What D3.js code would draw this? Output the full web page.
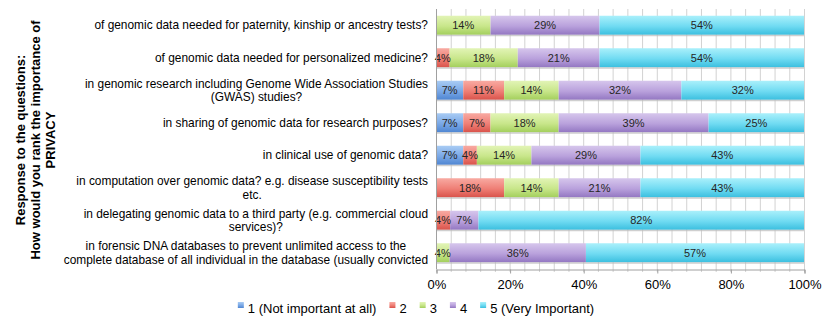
<!DOCTYPE html>
<html>
<head>
<meta charset="utf-8">
<script src="https://cdn.jsdelivr.net/npm/d3@7"></script>
<style>
  html, body { margin: 0; padding: 0; background: #fff; }
  svg { display: block; font-family: "Liberation Sans", Arial, Helvetica, sans-serif; }
</style>
</head>
<body>
<svg id="chart" width="830" height="322"></svg>
<script>
// ---- Data (percent of respondents) ----
const categories = [
  "of genomic data needed for paternity, kinship or ancestry tests?",
  "of genomic data needed for personalized medicine?",
  "in genomic research including Genome Wide Association Studies\n(GWAS) studies?",
  "in sharing of genomic data for research purposes?",
  "in clinical use of genomic data?",
  "in computation over genomic data? e.g. disease susceptibility tests\netc.",
  "in delegating genomic data to a third party (e.g. commercial cloud\nservices)?",
  "in forensic DNA databases to prevent unlimited access to the\ncomplete database of all individual in the database (usually convicted"
];
const seriesNames = ["1 (Not important at all)", "2", "3", "4", "5 (Very Important)"];
const s1 = [0, 0, 7.14, 7.14, 7.14, 0, 0, 0];
const s2 = [0, 3.57, 10.71, 7.14, 3.57, 17.86, 3.57, 0];
const s3 = [14.29, 17.86, 14.29, 17.86, 14.29, 14.29, 0, 3.57];
const s4 = [28.57, 21.43, 32.14, 39.29, 28.57, 21.43, 7.14, 35.71];
const s5 = [53.57, 53.57, 32.14, 25.00, 42.86, 42.86, 82.14, 57.14];
const tickValues = [0, 0.2, 0.4, 0.6, 0.8, 1.0];
const titleLines = ["Response to the questions:", "How would you rank the importance of", "PRIVACY"];

const seriesValues = [s1, s2, s3, s4, s5];
const gradStops = [
  ["#a9ccf4", "#7aa8e6", "#4f86d2"],
  ["#f8aaa2", "#ef7f76", "#d9534b"],
  ["#e2f4b6", "#c8e68a", "#a3cf5c"],
  ["#d6c6ec", "#b9a1dc", "#9377c2"],
  ["#aaf0fb", "#70dbf2", "#3bbfdf"]
];

// Build table for the stack
const table = categories.map((c, i) => {
  const row = { cat: c };
  seriesNames.forEach((s, k) => row[s] = seriesValues[k][i]);
  return row;
});

const svg = d3.select("#chart");
const margin = { left: 436, right: 26, top: 9, bottom: 53 };
const W = 830, H = 322;
const x = d3.scaleLinear().domain([0, 1]).range([margin.left, W - margin.right]);
const y = d3.scaleBand().domain(categories).range([margin.top, H - margin.bottom]).paddingInner(0.415).paddingOuter(0.2075);

const defs = svg.append("defs");
gradStops.forEach((g, k) => {
  const lg = defs.append("linearGradient").attr("id", "g" + k).attr("x1", 0).attr("y1", 0).attr("x2", 0).attr("y2", 1);
  lg.append("stop").attr("offset", "0%").attr("stop-color", g[0]);
  lg.append("stop").attr("offset", "55%").attr("stop-color", g[1]);
  lg.append("stop").attr("offset", "100%").attr("stop-color", g[2]);
});

// Gridlines every 4%
const minor = d3.range(0, 1.0001, 0.04);
const yBottom = H - margin.bottom;
svg.append("g").selectAll("line").data(minor).join("line")
  .attr("x1", d => x(d) + 0.5).attr("x2", d => x(d) + 0.5)
  .attr("y1", margin.top).attr("y2", yBottom + 3)
  .attr("stroke", "#d2d2d2").attr("stroke-width", 1);

// Stack
const stack = d3.stack().keys(seriesNames).offset(d3.stackOffsetExpand);
const stacked = stack(table);

const layers = svg.append("g").selectAll("g").data(stacked).join("g")
  .attr("fill", (d, k) => `url(#g${k})`);

layers.selectAll("rect").data(d => d.filter(p => p[1] - p[0] > 0)).join("rect")
  .attr("x", p => x(p[0]))
  .attr("width", p => x(p[1]) - x(p[0]))
  .attr("y", p => y(p.data.cat))
  .attr("height", y.bandwidth());

// bar shadow line
svg.append("g").selectAll("rect").data(categories).join("rect")
  .attr("x", x(0)).attr("width", x(1) - x(0))
  .attr("y", d => y(d) + y.bandwidth()).attr("height", 1.5)
  .attr("fill", "#bbbbbb").attr("opacity", 0.7);

// value labels
const lab = svg.append("g").attr("font-size", 11).attr("fill", "#262626").attr("text-anchor", "middle");
stacked.forEach((layer, k) => {
  lab.selectAll(null).data(layer.filter(p => p[1] - p[0] > 0)).join("text")
    .attr("x", p => (x(p[0]) + x(p[1])) / 2)
    .attr("y", p => y(p.data.cat) + y.bandwidth() / 2 + 4)
    .text(p => Math.round(p.data[layer.key]) + "%");
});

// Axes
svg.append("line").attr("x1", x(0) + 0.5).attr("x2", x(0) + 0.5).attr("y1", margin.top).attr("y2", yBottom)
  .attr("stroke", "#a0a0a0");
const xAxis = d3.axisBottom(x).tickValues(tickValues).tickFormat(d3.format(".0%")).tickSize(4).tickPadding(6);
const gx = svg.append("g").attr("transform", `translate(0.5,${yBottom + 0.5})`).call(xAxis);
gx.select(".domain").attr("stroke", "#a0a0a0");
gx.selectAll(".tick line").attr("stroke", "#a0a0a0");
gx.selectAll(".tick text").attr("font-size", 13).attr("fill", "#000").attr("font-family", "Liberation Sans, Arial, sans-serif");

// Category labels
const catG = svg.append("g").attr("font-size", 11.9).attr("fill", "#000");
categories.forEach(c => {
  const lines = c.split("\n");
  const g = catG.append("g");
  const lh = 13.5;
  const cy = y(c) + y.bandwidth() / 2;
  const texts = lines.map((l, i) => g.append("text")
    .attr("text-anchor", "middle")
    .attr("y", cy + (i - (lines.length - 1) / 2) * lh + 4)
    .text(l));
  const maxW = d3.max(texts, t => t.node().getComputedTextLength());
  texts.forEach(t => t.attr("x", 428 - maxW / 2));
});

// Y title
const tg = svg.append("g").attr("transform", "translate(0,140) rotate(-90)");
titleLines.forEach((t, i) => {
  tg.append("text").attr("text-anchor", "middle").attr("x", 0).attr("y", 24.5 + i * 15)
    .attr("font-size", 13).attr("font-weight", "bold").attr("fill", "#000").text(t);
});

// Legend
const leg = svg.append("g").attr("font-size", 13).attr("fill", "#000");
let lx = 0;
const items = [];
seriesNames.forEach((s, k) => {
  const it = leg.append("g");
  it.append("rect").attr("x", 0).attr("y", -6).attr("width", 6).attr("height", 6).attr("fill", `url(#g${k})`);
  const t = it.append("text").attr("x", 10).attr("y", 4.5).text(s);
  items.push([it, t.node().getComputedTextLength()]);
});
items.forEach(([it, w]) => { it.attr("transform", `translate(${lx},0)`); lx += 10 + w + 13; });
const totalW = lx - 13;
leg.attr("transform", `translate(${416 - totalW / 2},${308})`);
</script>
</body>
</html>
